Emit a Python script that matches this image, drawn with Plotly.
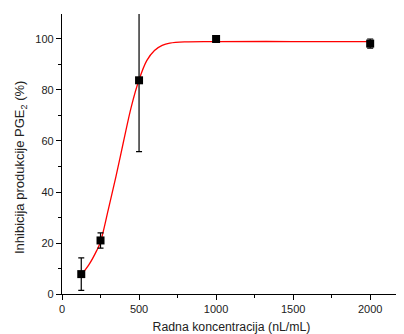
import plotly.graph_objects as go

# measured points
conc = [125, 250, 500, 1000, 2000]
inhib = [7.8, 21.0, 83.8, 100.0, 98.2]
err = [6.4, 3.0, 28.0, 0.6, 1.8]

# fitted curve, values
curve_x = [125, 175, 225, 250, 300, 350, 400, 450, 500, 550, 600, 650, 700, 800, 1000, 1500, 2000]
curve_y = [7.5, 11.5, 17.0, 20.5, 33.0, 46.0, 60.0, 73.5, 84.0, 91.5, 95.5, 97.5, 98.4, 98.9, 99.0, 99.0, 99.0]

x_ticks = [0, 500, 1000, 1500, 2000]
y_ticks = [0, 20, 40, 60, 80, 100]

fig = go.Figure()
fig.add_trace(go.Scatter(x=curve_x, y=curve_y, mode="lines",
                         line=dict(color="#ff0000", width=1.3, shape="spline", smoothing=1.0),
                         hoverinfo="skip", showlegend=False))
fig.add_trace(go.Scatter(x=conc, y=inhib, mode="markers",
                         marker=dict(symbol="square", size=8, color="black"),
                         error_y=dict(type="data", array=err, color="black", thickness=1.2, width=3),
                         showlegend=False, cliponaxis=True))

# page body has an 8px margin, so the figure is sized 8px smaller
fig.update_layout(
    width=396, height=326,
    margin=dict(l=54, r=3, t=6, b=40),
    paper_bgcolor="white", plot_bgcolor="white",
    font=dict(family="Liberation Sans, Arial, sans-serif", color="#222", size=11),
    xaxis=dict(range=[0, 2200], tickvals=x_ticks, showgrid=False, zeroline=False,
               showline=True, linecolor="black", linewidth=1.2,
               ticks="outside", ticklen=5, tickwidth=1, tickcolor="black",
               minor=dict(ticks="outside", ticklen=3, dtick=250, tickcolor="black", showgrid=False),
               title=dict(text="Radna koncentracija (nL/mL)", font=dict(size=12.3), standoff=8)),
    yaxis=dict(range=[0, 109.8], tickvals=y_ticks, showgrid=False, zeroline=False,
               showline=True, linecolor="black", linewidth=1.2,
               ticks="outside", ticklen=5, tickwidth=1, tickcolor="black",
               minor=dict(ticks="outside", ticklen=3, dtick=10, tickcolor="black", showgrid=False)),
    annotations=[dict(text="Inhibicija produkcije PGE<sub>2</sub> (%)", textangle=-90,
                      xref="paper", yref="paper", x=0, y=0.45, xanchor="center", yanchor="middle",
                      xshift=-42, showarrow=False, font=dict(size=13, color="#222"))],
)

fig.write_html("out.html")
